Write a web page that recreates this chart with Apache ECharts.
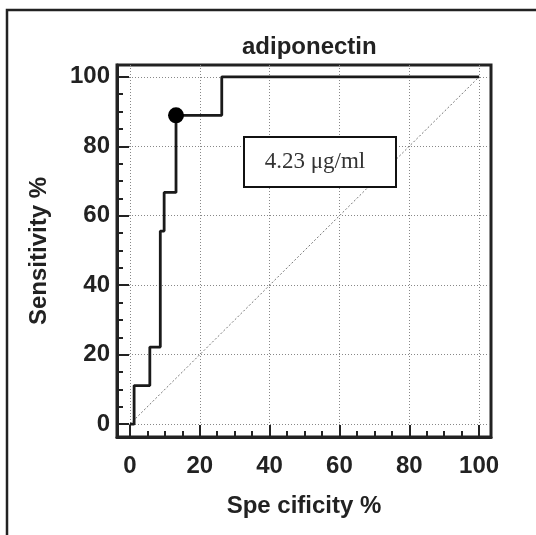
<!DOCTYPE html>
<html>
<head>
<meta charset="utf-8">
<script src="https://cdn.jsdelivr.net/npm/echarts@6/dist/echarts.min.js"></script>
<style>
  html, body { margin: 0; padding: 0; background: #fff; }
  #main { width: 536px; height: 535px; }
</style>
</head>
<body>
<div id="main"></div>
<script>
// ROC curve (step points)
const specificity = [0, 1.2, 5.7, 8.7, 9.8, 13.2, 26.3, 100];
const sensitivity = [0, 11.1, 22.2, 55.6, 66.7, 88.9, 100, 100];
const cutoffPoint = [13.2, 88.9];
const cutoffLabel = '4.23 μg/ml';
const diagonal = [[0, 0], [100, 100]];

// axes
const majorTicks = [0, 20, 40, 60, 80, 100];
const minorTicks = [5, 10, 15, 25, 30, 35, 45, 50, 55, 65, 70, 75, 85, 90, 95];
const axisMin = -3.7;
const axisMax = 103.4;

const font = '"Liberation Sans", Arial, sans-serif';
const ink = '#222';

let myChart = echarts.init(document.getElementById('main'));

function mainAxis(name, nameGap, margin) {
    return {
        type: 'value',
        min: axisMin,
        max: axisMax,
        name: name,
        nameLocation: 'middle',
        nameGap: nameGap,
        nameTextStyle: { fontSize: 24, fontWeight: 'bold', fontFamily: font, color: ink },
        axisLine: { show: true, onZero: false, lineStyle: { color: ink, width: 3 } },
        axisTick: {
            show: true, inside: true, length: 12, customValues: majorTicks,
            lineStyle: { color: ink, width: 2 }
        },
        axisLabel: {
            customValues: majorTicks, margin: margin,
            fontSize: 24, fontWeight: 'bold', fontFamily: font, color: ink
        },
        splitLine: { show: true, lineStyle: { color: '#888', width: 1, type: [1, 2] } }
    };
}

function minorAxis(pos) {
    return {
        type: 'value',
        position: pos,
        min: axisMin,
        max: axisMax,
        axisLine: { show: false, onZero: false },
        axisTick: {
            show: true, inside: true, length: 6, customValues: minorTicks,
            lineStyle: { color: ink, width: 2 }
        },
        axisLabel: { show: false },
        splitLine: { show: false }
    };
}

let xMain = mainAxis('Spe cificity %', 57, 17);
xMain.position = 'bottom';
let yMain = mainAxis('Sensitivity %', 66, 7);
yMain.position = 'left';

let option = {
    animation: false,
    title: {
        text: 'adiponectin',
        left: 237,
        top: 30,
        textStyle: { fontSize: 24, fontWeight: 'bold', fontFamily: font, color: ink }
    },
    grid: {
        left: 117, top: 65, width: 374, height: 372,
        show: true, borderColor: ink, borderWidth: 3
    },
    xAxis: [xMain, minorAxis('bottom')],
    yAxis: [yMain, minorAxis('left')],
    series: [
        {
            // chance line
            type: 'line',
            data: diagonal,
            symbol: 'none',
            silent: true,
            lineStyle: { color: '#777', width: 1, type: [2, 2] },
            z: 1
        },
        {
            type: 'line',
            step: 'end',
            data: specificity.map((x, i) => [x, sensitivity[i]]),
            symbol: 'none',
            lineStyle: { color: '#1a1a1a', width: 2.8 },
            z: 3
        },
        {
            type: 'scatter',
            data: [cutoffPoint],
            symbolSize: 16,
            itemStyle: { color: '#000', opacity: 1 },
            z: 4
        }
    ],
    graphic: [
        {
            // outer frame
            type: 'rect',
            shape: { x: 7, y: 10, width: 560, height: 560 },
            style: { fill: 'none', stroke: ink, lineWidth: 2.5 },
            silent: true
        },
        {
            type: 'rect',
            shape: { x: 244, y: 137, width: 152, height: 50 },
            style: { fill: '#fff', stroke: '#111', lineWidth: 2 },
            z: 100
        },
        {
            type: 'text',
            x: 315,
            y: 162,
            style: {
                text: cutoffLabel,
                font: '23px "Liberation Serif", "Times New Roman", serif',
                fill: '#333',
                textAlign: 'center',
                textVerticalAlign: 'middle'
            },
            z: 101
        }
    ]
};

myChart.setOption(option);
</script>
</body>
</html>
